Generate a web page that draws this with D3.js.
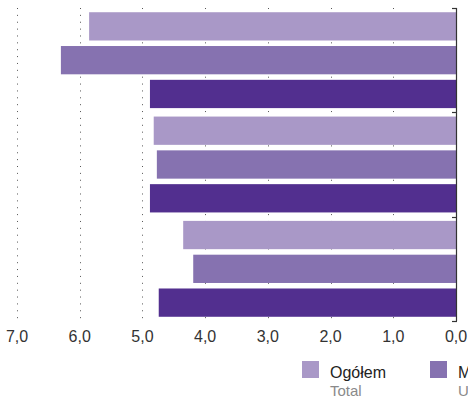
<!DOCTYPE html>
<html><head><meta charset="utf-8">
<script src="https://cdn.jsdelivr.net/npm/d3@7"></script>
<style>body{margin:0;background:#fff}svg{display:block}</style>
</head><body>
<svg id="c" width="468" height="400"></svg>
<script>
const categories = ["A", "B", "C"];
const seriesNames = ["Ogółem", "Miasta", "Wieś"];
const seriesNamesEn = ["Total", "Urban areas", "Rural areas"];
const ogolem = [5.85, 4.82, 4.35];
const miasta = [6.30, 4.77, 4.19];
const wies = [4.88, 4.88, 4.74];
const tickValues = [7, 6, 5, 4, 3, 2, 1, 0];
const colors = ["#a998c7", "#8672b0", "#522f8f"];

const svg = d3.select("#c");
const x = d3.scaleLinear().domain([0, 7]).range([456, 17]);
const y = d3.scaleBand().domain(categories).range([8, 321]);
const y2 = d3.scaleBand().domain(seriesNames).range([0, y.bandwidth()])
  .paddingInner(0.163).paddingOuter(0.125);
const series = [ogolem, miasta, wies];

// dotted grid
svg.append("g").selectAll("line").data(tickValues.filter(d => d > 0)).join("line")
  .attr("x1", d => Math.round(x(d)) + 0.5).attr("x2", d => Math.round(x(d)) + 0.5)
  .attr("y1", 8).attr("y2", 321)
  .attr("stroke", "#555").attr("stroke-width", 1).attr("stroke-dasharray", "1,5.87");

// bars
const g = svg.append("g");
categories.forEach((c, i) => {
  series.forEach((s, j) => {
    g.append("rect")
      .attr("x", x(s[i])).attr("width", x(0) - x(s[i]))
      .attr("y", y(c) + y2(seriesNames[j])).attr("height", y2.bandwidth())
      .attr("fill", colors[j]);
  });
});

// right axis (vertical line with group boundary ticks)
const bounds = categories.map(c => y(c)).concat([y.range()[1]]);
svg.append("line").attr("x1", 456.5).attr("x2", 456.5).attr("y1", 8).attr("y2", 321)
  .attr("stroke", "#333").attr("stroke-width", 1.2);
svg.append("g").selectAll("line").data(bounds).join("line")
  .attr("x1", 452).attr("x2", 457).attr("y1", d => Math.round(d) + 0.5).attr("y2", d => Math.round(d) + 0.5)
  .attr("stroke", "#333").attr("stroke-width", 1.2);

// bottom axis labels
const fmt = d => d3.format(".1f")(d).replace(".", ",");
svg.append("g").selectAll("text").data(tickValues).join("text")
  .attr("x", d => x(d)).attr("y", 342)
  .attr("text-anchor", "middle")
  .attr("font-family", "Liberation Sans, Arial, sans-serif").attr("font-size", 16)
  .attr("fill", "#333").text(fmt);

// legend (only the entries that fall inside the visible area)
const legX = [302, 430];
legX.forEach((lx, j) => {
  const lg = svg.append("g");
  lg.append("rect").attr("x", lx).attr("y", 361).attr("width", 17).attr("height", 17).attr("fill", colors[j]);
  lg.append("text").attr("x", lx + 28).attr("y", 378)
    .attr("font-family", "Liberation Sans, Arial, sans-serif").attr("font-size", 16).attr("fill", "#222").text(seriesNames[j]);
  lg.append("text").attr("x", lx + 28).attr("y", 396)
    .attr("font-family", "Liberation Sans, Arial, sans-serif").attr("font-size", 15).attr("fill", "#8a8a8a").text(seriesNamesEn[j]);
});
</script>
</body></html>
